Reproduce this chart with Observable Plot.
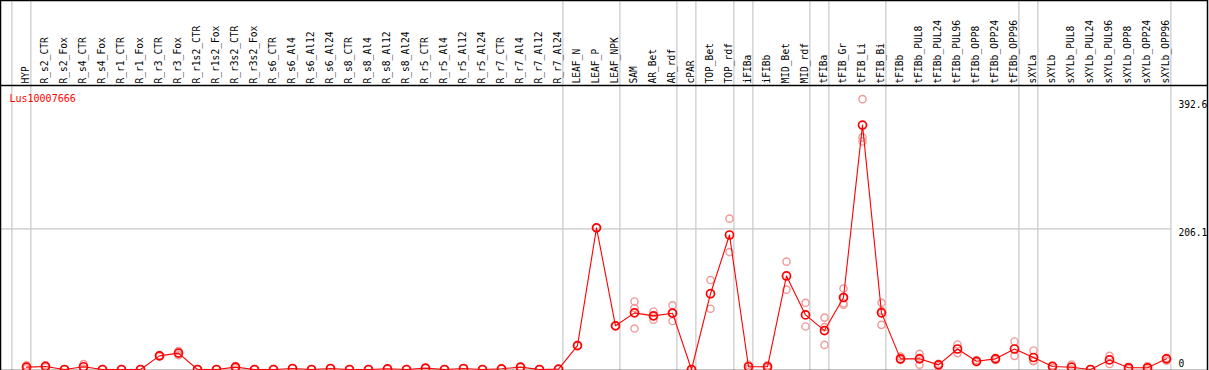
<!DOCTYPE html>
<html>
<head>
<meta charset="utf-8">
<script src="https://cdn.jsdelivr.net/npm/d3@7"></script>
<script src="https://cdn.jsdelivr.net/npm/@observablehq/plot@0.6"></script>
<style>
  html, body { margin: 0; padding: 0; background: #fff; }
  #chart svg { display: block; }
</style>
</head>
<body>
<div id="chart"></div>
<script>
const geneName = "Lus10007666";

const categories = [
  "HYP","R_s2_CTR","R_s2_Fox","R_s4_CTR","R_s4_Fox","R_r1_CTR","R_r1_Fox","R_r3_CTR","R_r3_Fox",
  "R_r1s2_CTR","R_r1s2_Fox","R_r3s2_CTR","R_r3s2_Fox","R_s6_CTR","R_s6_Al4","R_s6_Al12","R_s6_Al24",
  "R_s8_CTR","R_s8_Al4","R_s8_Al12","R_s8_Al24","R_r5_CTR","R_r5_Al4","R_r5_Al12","R_r5_Al24",
  "R_r7_CTR","R_r7_Al4","R_r7_Al12","R_r7_Al24","LEAF_N","LEAF_P","LEAF_NPK","SAM","AR_Bet","AR_rdf",
  "cPAR","TOP_Bet","TOP_rdf","iFIBa","iFIBb","MID_Bet","MID_rdf","tFIBa","tFIB_Gr","tFIB_Li","tFIB_Bi",
  "tFIBb","tFIBb_PUL8","tFIBb_PUL24","tFIBb_PUL96","tFIBb_OPP8","tFIBb_OPP24","tFIBb_OPP96",
  "sXYLa","sXYLb","sXYLb_PUL8","sXYLb_PUL24","sXYLb_PUL96","sXYLb_OPP8","sXYLb_OPP24","sXYLb_OPP96"
];

const means = [
  3.5, 4.5, 0, 4, 0, 0, 0, 20, 24,
  0, 0, 3.5, 0, 0, 1.5, 0, 1.5,
  0, 0, 1, 0, 2, 0, 1.5, 0,
  1, 3.5, 0, 0.5, 35, 207.5, 64, 83, 78.6, 82.5,
  0, 111, 197, 4, 4, 137, 80, 57, 105.5, 358, 83,
  15.6, 15.6, 6.8, 30, 12, 15.6, 30,
  17.6, 4.4, 3.4, 0, 14, 2.5, 2.5, 15.6
];

const replicates = [
  [6, 1.5], [6, 3], [0], [8, 1], [0], [0], [0], [21, 19], [27, 21],
  [0], [0], [5, 2], [0], [0], [1.5], [0], [1.5],
  [0], [0], [1], [0], [2], [0], [1.5], [0],
  [1], [4, 3], [0], [0.5], [35], [207.5], [64], [99.6, 90, 60], [85, 73, 78], [94, 71, 83],
  [0], [131, 89], [221, 172], [7, 1], [6, 2], [158, 117], [97.7, 63], [76, 36, 62], [118.6, 97, 95, 105], [396, 340, 334], [97.7, 65.4, 86],
  [19, 14, 14], [23, 7, 17], [5, 8.5], [36.6, 24], [10.7, 14], [17, 14], [41, 20],
  [27.8, 13, 12], [2, 6], [7.3, 0], [0], [20, 8], [4, 1], [5, 0], [17, 13]
];

// indices after which a group separator is drawn (-1 = before the first)
const groupBreaks = [-1, 0, 28, 31, 34, 35, 37, 38, 41, 42, 45, 52, 53, 60];
const yTickValues = [392.6, 206.1, 0];
const yGridValues = [206.1];

const meanData = categories.map((c, i) => ({i, name: c, value: means[i]}));
const repData = replicates.flatMap((vals, i) => vals.map(v => ({i, value: v})));
const yTop = 416;

const chart = Plot.plot({
  width: 1209,
  height: 370,
  marginTop: 0, marginLeft: 0, marginBottom: 0, marginRight: 2,
  style: {fontFamily: "'DejaVu Sans Mono', monospace", fontSize: "9.6px", background: "#fff", color: "#000"},
  x: {type: "linear", domain: [0, 60], range: [26, 1166], axis: null},
  y: {type: "linear", domain: [0, yTop], range: [369, 85], axis: null},
  marks: [
    Plot.ruleX(groupBreaks, {x: d => d + 0.23, stroke: "#c8c8c8", strokeWidth: 1.2}),
    Plot.ruleY(yGridValues, {y: d => d, x1: -1.37, x2: 60.3, stroke: "#c8c8c8", strokeWidth: 1.2}),
    Plot.ruleY([yTop], {stroke: "#000", strokeWidth: 1.5}),
    Plot.frame({stroke: "#000", strokeWidth: 1.5}),
    Plot.text(meanData, {x: "i", text: "name", frameAnchor: "top", dy: 83, dx: -1, rotate: -90, textAnchor: "start", lineAnchor: "middle", fill: "#000"}),
    Plot.text([geneName], {frameAnchor: "top-left", dx: 9, dy: 98, textAnchor: "start", lineAnchor: "middle", fill: "#ff0000", fontSize: 10}),
    Plot.text(yTickValues.filter(v => v !== 0), {y: d => d, text: d => String(d), frameAnchor: "left", dx: 1178, textAnchor: "start", lineAnchor: "top", fill: "#000"}),
    Plot.text(yTickValues.filter(v => v === 0), {y: d => d, text: d => String(d), frameAnchor: "left", dx: 1178, dy: -3, textAnchor: "start", lineAnchor: "bottom", fill: "#000"}),
    Plot.dot(repData, {x: "i", y: "value", r: 3.6, stroke: "#f09a9a", strokeWidth: 1.4, fill: "none"}),
    Plot.line(meanData, {x: "i", y: "value", stroke: "#ff0000", strokeWidth: 1.1}),
    Plot.dot(meanData, {x: "i", y: "value", r: 4, stroke: "#ff0000", strokeWidth: 1.7, fill: "none"})
  ]
});
document.getElementById("chart").appendChild(chart);
</script>
</body>
</html>
